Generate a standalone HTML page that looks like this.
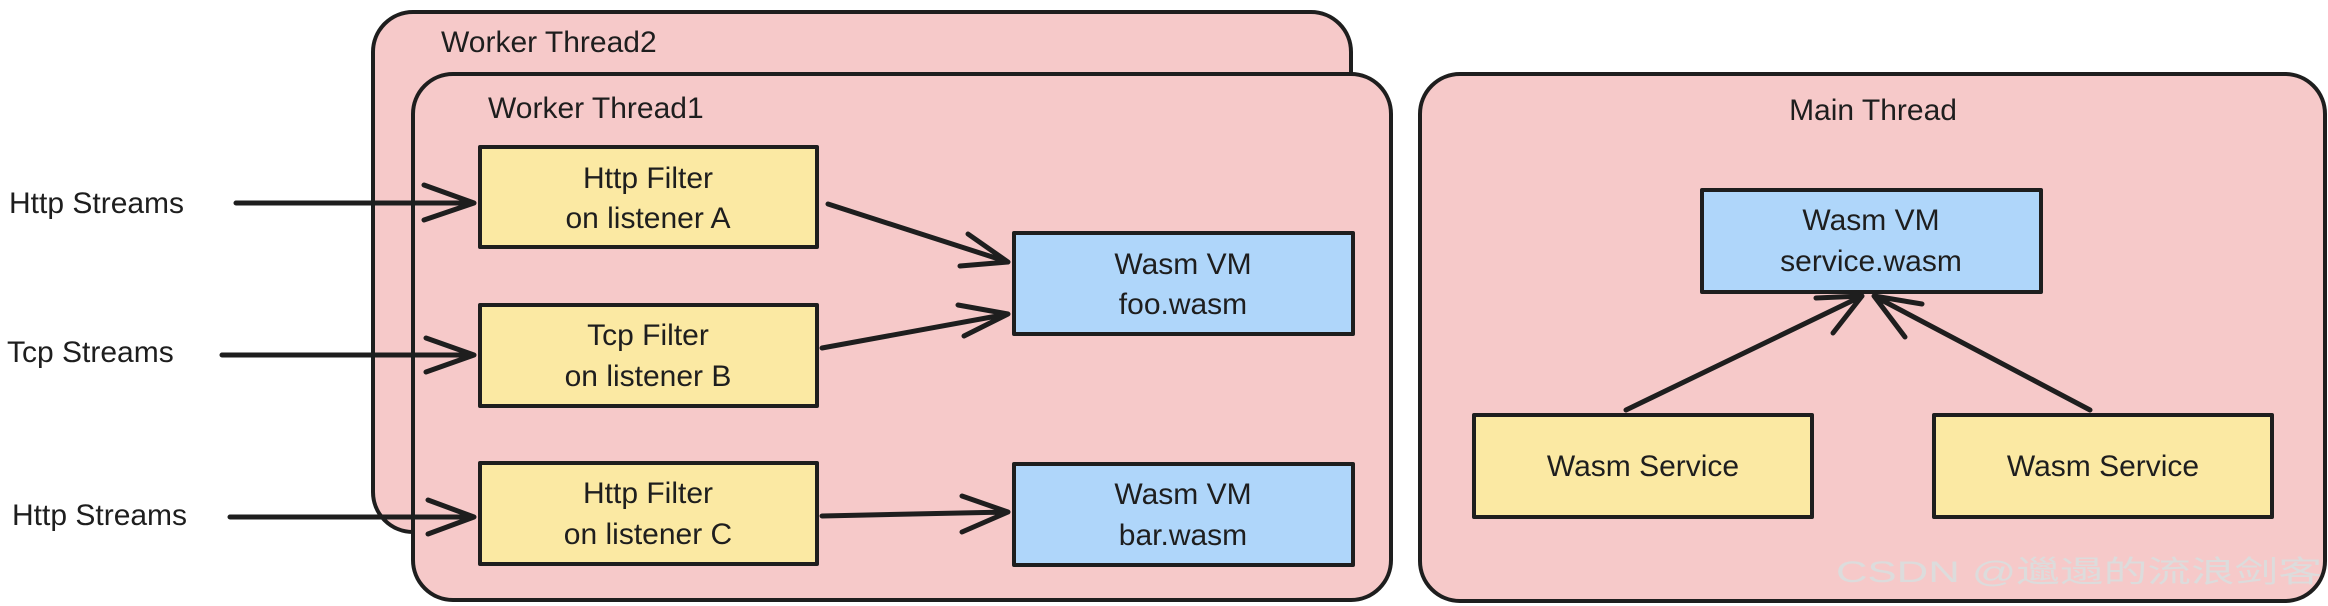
<!DOCTYPE html>
<html><head><meta charset="utf-8"><style>
html,body{margin:0;padding:0;background:#fff;}
svg{display:block}
text{font-family:"Liberation Sans","Noto Sans CJK SC",sans-serif;fill:#1e1e1e;font-size:30px}
</style></head><body>
<svg width="2328" height="606" viewBox="0 0 2328 606" xmlns="http://www.w3.org/2000/svg">
<g stroke="#1e1e1e" stroke-width="4" stroke-linecap="round" stroke-linejoin="round">
<rect x="373" y="12" width="978" height="520" rx="40" fill="#f6c9c9"/>
<rect x="413" y="74" width="978" height="526" rx="40" fill="#f6c9c9"/>
<rect x="1420" y="74" width="905" height="527" rx="40" fill="#f6c9c9"/>
<rect x="480" y="147" width="337" height="100" fill="#fbe9a3"/>
<rect x="480" y="305" width="337" height="101" fill="#fbe9a3"/>
<rect x="480" y="463" width="337" height="101" fill="#fbe9a3"/>
<rect x="1014" y="233" width="339" height="101" fill="#afd6fa"/>
<rect x="1014" y="464" width="339" height="101" fill="#afd6fa"/>
<rect x="1702" y="190" width="339" height="102" fill="#afd6fa"/>
<rect x="1474" y="415" width="338" height="102" fill="#fbe9a3"/>
<rect x="1934" y="415" width="338" height="102" fill="#fbe9a3"/>
</g>
<g stroke="#1e1e1e" stroke-width="5" fill="none" stroke-linecap="round" stroke-linejoin="round">
<path d="M236 203 L474 203 M424 185 L474 203 L424 220"/>
<path d="M222 355 L474 355 M426 338 L474 355 L426 372"/>
<path d="M230 517 L474 517 M428 500 L474 517 L428 534"/>
<path d="M828 204 L1008 262 M968 234 L1008 262 L960 266"/>
<path d="M822 348 L1008 314 M958 305 L1008 314 L964 336"/>
<path d="M822 516 L1008 512 M962 496 L1008 512 L962 532"/>
<path d="M1626 410 L1862 296 M1816 298 L1862 296 L1833 333"/>
<path d="M2090 410 L1874 296 M1922 304 L1874 296 L1905 337"/>
</g>
<text x="9" y="213">Http Streams</text>
<text x="7" y="362">Tcp Streams</text>
<text x="12" y="525">Http Streams</text>
<text x="441" y="52" font-size="29">Worker Thread2</text>
<text x="488" y="118" font-size="29">Worker Thread1</text>
<text x="1873" y="120" text-anchor="middle" font-size="29">Main Thread</text>
<g text-anchor="middle">
<text x="648" y="188">Http Filter</text><text x="648" y="228">on listener A</text>
<text x="648" y="345">Tcp Filter</text><text x="648" y="386">on listener B</text>
<text x="648" y="503">Http Filter</text><text x="648" y="544">on listener C</text>
<text x="1183" y="274">Wasm VM</text><text x="1183" y="314">foo.wasm</text>
<text x="1183" y="504">Wasm VM</text><text x="1183" y="545">bar.wasm</text>
<text x="1871" y="230">Wasm VM</text><text x="1871" y="271">service.wasm</text>
<text x="1643" y="476">Wasm Service</text>
<text x="2103" y="476">Wasm Service</text>
</g>
<text x="1836" y="582" font-size="46" textLength="486" lengthAdjust="spacingAndGlyphs" style="fill:#dcdcdc">CSDN @邋遢的流浪剑客</text>
</svg>
</body></html>
